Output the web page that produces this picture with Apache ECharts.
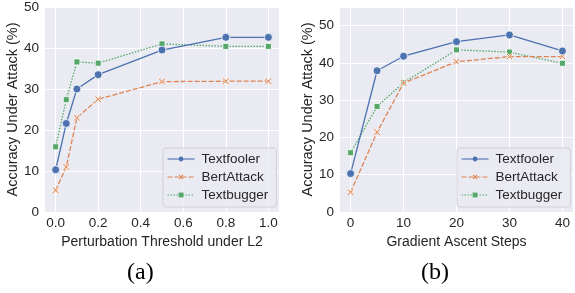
<!DOCTYPE html>
<html>
<head>
<meta charset="utf-8">
<script src="https://cdn.jsdelivr.net/npm/echarts@6/dist/echarts.min.js"></script>
<style>
  html, body { margin: 0; padding: 0; background: #fff; }
</style>
</head>
<body>
<div id="myChart" style="width:575px;height:293px;"></div>
<script>
// (a) perturbation threshold
const thresholds = [0, 0.05, 0.1, 0.2, 0.5, 0.8, 1.0];
const foolerA = [10.3, 21.6, 30.0, 33.5, 39.5, 42.6, 42.6];
const bertA = [5.3, 11.0, 23.0, 27.5, 31.8, 31.9, 31.9];
const buggerA = [15.9, 27.4, 36.6, 36.3, 41.0, 40.4, 40.4];
const ticksA = [0, 0.2, 0.4, 0.6, 0.8, 1.0];

// (b) gradient ascent steps
const steps = [0, 5, 10, 20, 30, 40];
const foolerB = [10.3, 37.9, 41.8, 45.7, 47.5, 43.2];
const bertB = [5.3, 21.4, 34.6, 40.3, 41.7, 41.7];
const buggerB = [15.9, 28.3, 34.7, 43.5, 42.9, 39.9];
const ticksB = [0, 10, 20, 30, 40];

const names = ['Textfooler', 'BertAttack', 'Textbugger'];
const colors = ['#4c72b0', '#dd8452', '#55a868'];
const crossPath = 'path://M1.5,0 L5,3.5 L8.5,0 L10,1.5 L6.5,5 L10,8.5 L8.5,10 L5,6.5 L1.5,10 L0,8.5 L3.5,5 L0,1.5 Z';
const font = 'Liberation Sans, Arial, sans-serif';

let myChart = echarts.init(document.getElementById('myChart'));

function pairs(xs, ys) {
  return xs.map((x, i) => [x, ys[i]]);
}

function makeSeries(idx, xs, ys, k) {
  const styles = [
    {type: 'solid', symbol: 'circle', size: 8},
    {type: [5, 2], symbol: crossPath, size: 7},
    {type: [1.5, 1.5], symbol: 'rect', size: 6}
  ];
  const s = styles[k];
  return {
    name: names[k],
    type: 'line',
    xAxisIndex: idx,
    yAxisIndex: idx,
    data: pairs(xs, ys),
    symbol: s.symbol,
    symbolSize: s.size,
    showSymbol: true,
    color: colors[k],
    lineStyle: {color: colors[k], width: 1.3, type: s.type},
    itemStyle: {color: colors[k], borderColor: '#fff', borderWidth: 0.8},
    emphasis: {disabled: true},
    animation: false,
    z: 3 - k
  };
}

function xAxis(idx, min, max, ticks, fmt, title) {
  return {
    gridIndex: idx,
    type: 'value',
    min: min,
    max: max,
    name: title,
    nameLocation: 'middle',
    nameGap: 17,
    nameTextStyle: {fontFamily: font, fontSize: 14, color: '#262626'},
    axisLine: {show: false},
    axisTick: {show: false, customValues: ticks},
    axisLabel: {customValues: ticks, formatter: fmt, margin: 4,
      fontFamily: font, fontSize: 13.5, color: '#262626'},
    splitLine: {show: true, lineStyle: {color: '#fff', width: 1}}
  };
}

function yAxis(idx, max) {
  return {
    gridIndex: idx,
    type: 'value',
    min: 0,
    max: max,
    interval: 10,
    name: 'Accuracy Under Attack (%)',
    nameLocation: 'middle',
    nameGap: 20,
    nameTextStyle: {fontFamily: font, fontSize: 14.5, color: '#262626'},
    axisLine: {show: false},
    axisTick: {show: false},
    axisLabel: {showMaxLabel: max % 10 === 0, margin: 6,
      fontFamily: font, fontSize: 13.5, color: '#262626'},
    splitLine: {show: true, lineStyle: {color: '#fff', width: 1}}
  };
}

function legend(left, top) {
  return {
    data: names,
    orient: 'vertical',
    left: left,
    top: top,
    itemWidth: 27,
    itemHeight: 6,
    itemGap: 4,
    padding: [4, 8, 5, 4],
    backgroundColor: 'rgba(234,234,242,0.8)',
    borderColor: '#cfcfd4',
    borderWidth: 1,
    borderRadius: 3,
    selectedMode: false,
    itemStyle: {borderWidth: 0},
    lineStyle: {width: 1.1},
    textStyle: {fontFamily: font, fontSize: 13.5, color: '#262626', padding: [0, 0, 0, 2]}
  };
}

myChart.setOption({
  animation: false,
  grid: [
    {left: 45, right: 296, top: 7, bottom: 81, show: true, backgroundColor: '#eaeaf2', borderWidth: 0},
    {left: 340, right: 2, top: 7, bottom: 81, show: true, backgroundColor: '#eaeaf2', borderWidth: 0}
  ],
  legend: [legend(163, 148), legend(457, 148)],
  xAxis: [
    xAxis(0, -0.05, 1.05, ticksA, v => v.toFixed(1), 'Perturbation Threshold under L2'),
    xAxis(1, -2, 42, ticksB, v => String(v), 'Gradient Ascent Steps')
  ],
  yAxis: [yAxis(0, 50), yAxis(1, 55)],
  graphic: [
    {type: 'text', left: 127, top: 261, style: {text: '(a)', fontFamily: 'Liberation Serif, serif', fontSize: 24, fill: '#000'}},
    {type: 'text', left: 421, top: 261, style: {text: '(b)', fontFamily: 'Liberation Serif, serif', fontSize: 24, fill: '#000'}}
  ],
  series: [
    makeSeries(0, thresholds, foolerA, 0),
    makeSeries(0, thresholds, bertA, 1),
    makeSeries(0, thresholds, buggerA, 2),
    makeSeries(1, steps, foolerB, 0),
    makeSeries(1, steps, bertB, 1),
    makeSeries(1, steps, buggerB, 2)
  ]
});
</script>
</body>
</html>
